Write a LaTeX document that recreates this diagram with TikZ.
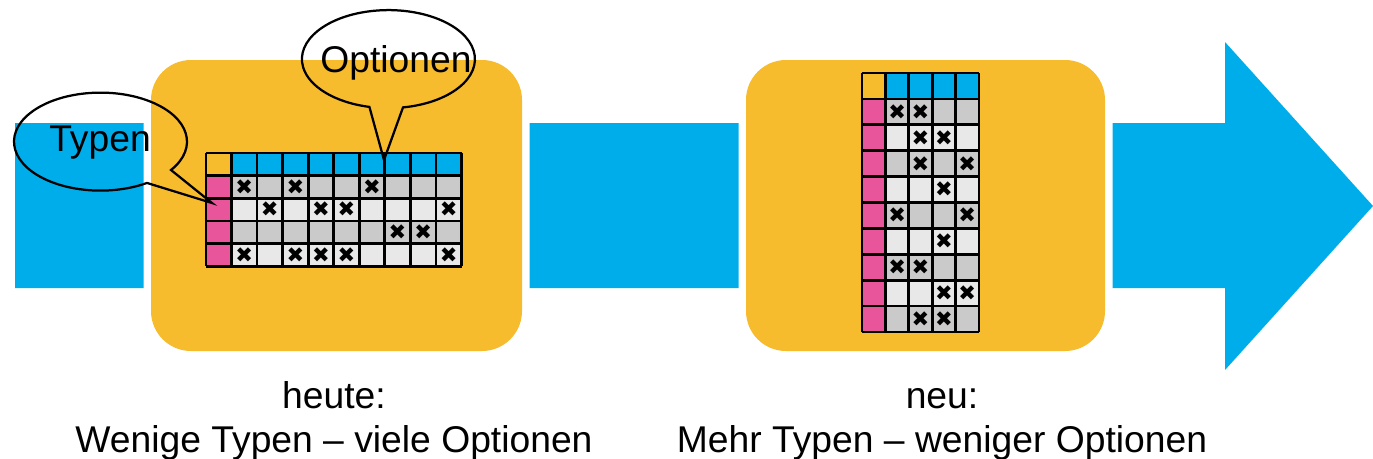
\documentclass[tikz,border=0pt]{standalone}
\usepackage{fontspec}
\setmainfont{Liberation Sans}
\newfontfamily\markfont{DejaVu Sans}
\definecolor{flowblue}{HTML}{00ADEB}
\definecolor{boxyellow}{HTML}{F7BC2D}
\definecolor{typepink}{HTML}{E9559A}
\definecolor{rowdark}{HTML}{CACACA}
\definecolor{rowlight}{HTML}{E8E8E8}
\tikzset{
  panel/.style={fill=boxyellow,rounded corners=8mm,preaction={draw=white,line width=3mm}},
  gridline/.style={draw=black,line width=0.55mm},
  bubble/.style={draw=black,line width=0.45mm,line join=miter},
  cross/.style={font=\markfont\fontsize{12}{12}\selectfont,inner sep=0pt},
  label/.style={font=\fontsize{21.2}{25}\selectfont,inner sep=0pt,align=center,anchor=base}
}
\begin{document}
\begin{tikzpicture}[x=0.2mm,y=-0.2mm]
        \useasboundingbox (0,0) rectangle (1373,458);
        % arrow in the back
        \fill[flowblue] (15,123) -- (1225,123) -- (1225,42) -- (1373,206) -- (1225,370) -- (1225,288) -- (15,288) -- cycle;
        \path[panel] (151,60) rectangle (522,351);
        \path[panel] (746,60) rectangle (1105,351);

        % left table
        \fill[boxyellow] (206,153) rectangle (231.5,175.7);
        \fill[flowblue] (231.5,153) rectangle (461.5,175.7);
        \fill[typepink] (206,175.7) rectangle (231.5,266);
        \foreach \r in {1,3} \fill[rowdark] (231.5,{153+22.65*\r}) rectangle (461.5,{153+22.65*(\r+1)});
        \foreach \r in {2,4} \fill[rowlight] (231.5,{153+22.65*\r}) rectangle (461.5,{153+22.65*(\r+1)});
        \foreach \r in {0,...,5} \draw[gridline] (206,{153+22.65*\r}) -- (461.5,{153+22.65*\r});
        \draw[gridline] (206,153) -- (206,266.2);
        \foreach \c in {0,...,9} \draw[gridline] ({231.5+25.55*\c},153) -- ({231.5+25.55*\c},266.2);
        \foreach \c/\r in {1/1,3/1,6/1,2/2,4/2,5/2,9/2,7/3,8/3,1/4,3/4,4/4,5/4,9/4}
          \node[cross] (a\c\r) at ({231.5+25.55*(\c-0.5)},{153+22.65*(\r+0.5)}) {✖};

        % right table
        \fill[boxyellow] (862,73) rectangle (885.4,99);
        \fill[flowblue] (885.4,73) rectangle (979,99);
        \fill[typepink] (862,99) rectangle (885.4,332);
        \foreach \r in {1,3,5,7,9} \fill[rowdark] (885.4,{73+25.9*\r}) rectangle (979,{73+25.9*(\r+1)});
        \foreach \r in {2,4,6,8} \fill[rowlight] (885.4,{73+25.9*\r}) rectangle (979,{73+25.9*(\r+1)});
        \foreach \r in {0,...,10} \draw[gridline] (862,{73+25.9*\r}) -- (979,{73+25.9*\r});
        \draw[gridline] (862,73) -- (862,332);
        \foreach \c in {0,...,4} \draw[gridline] ({885.4+23.4*\c},73) -- ({885.4+23.4*\c},332);
        \foreach \c/\r in {1/1,2/1,2/2,3/2,2/3,4/3,3/4,1/5,4/5,3/6,1/7,2/7,3/8,4/8,2/9,3/9}
          \node[cross] (b\c\r) at ({885.4+23.4*(\c-0.5)},{73+25.9*(\r+0.5)}) {✖};

        % speech bubbles, not filled
        \draw[bubble] (212,203) -- (171,170) arc[start angle=35.4,end angle=-302.5,x radius=86.5,y radius=49] -- cycle;
        \draw[bubble] (384,160) -- (403,107.4) arc[start angle=80.3,end angle=-257.3,x radius=86.5,y radius=49] -- cycle;
        \node[label] (typen) at (100,151) {Typen};
        \node[label] (optionen) at (396,72) {Optionen};

        \node[label] (heute) at (334,452) {heute:\\Wenige Typen – viele Optionen};
        \node[label] (neu) at (942,452) {neu:\\Mehr Typen – weniger Optionen};
        \end{tikzpicture}
\end{document}
